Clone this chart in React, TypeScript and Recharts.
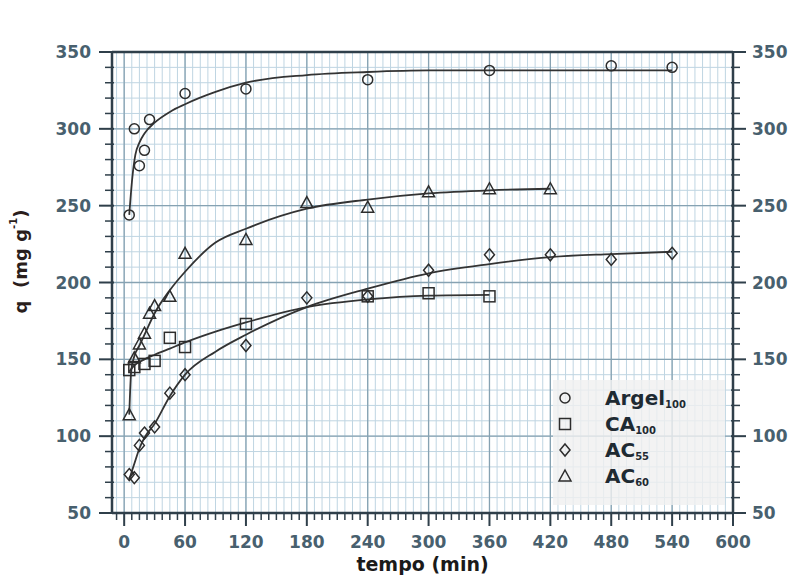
import React from "react";
import { ComposedChart, Line, Scatter, XAxis, YAxis, CartesianGrid, ReferenceLine, Legend } from "recharts";

// measured points (tempo in min, q in mg/g)
const argelT = [5, 10, 15, 20, 25, 60, 120, 240, 360, 480, 540];
const argelQ = [244, 300, 276, 286, 306, 323, 326, 332, 338, 341, 340];
const ca100T = [5, 10, 20, 30, 45, 60, 120, 240, 300, 360];
const ca100Q = [143, 145, 147, 149, 164, 158, 173, 191, 193, 191];
const ac55T = [5, 10, 15, 20, 30, 45, 60, 120, 180, 240, 300, 360, 420, 480, 540];
const ac55Q = [75, 73, 94, 102, 106, 128, 140, 159, 190, 191, 208, 218, 218, 215, 219];
const ac60T = [5, 10, 15, 20, 25, 30, 45, 60, 120, 180, 240, 300, 360, 420];
const ac60Q = [114, 151, 160, 167, 180, 185, 191, 219, 228, 252, 249, 259, 261, 261];

// fitted curves
const argelFitT = [5, 8, 11, 15, 20, 30, 45, 60, 90, 120, 180, 240, 300, 360, 420, 480, 540];
const argelFitQ = [244, 268, 283, 291, 297, 304, 311, 316, 324, 330, 335, 337, 338, 338, 338, 338, 338];
const ca100FitT = [5, 10, 20, 30, 45, 60, 90, 120, 180, 240, 300, 360];
const ca100FitQ = [142, 146, 150, 153, 157, 161, 168, 174, 184, 189, 191.5, 192];
const ac55FitT = [5, 10, 15, 20, 30, 45, 60, 90, 120, 180, 240, 300, 360, 420, 480, 540];
const ac55FitQ = [72, 82, 92, 99, 108, 126, 140, 155, 166, 184, 196, 206, 212, 216.5, 218.5, 220];
const ac60FitT = [5, 7, 10, 15, 20, 30, 45, 60, 90, 120, 180, 240, 300, 360, 420];
const ac60FitQ = [114, 143, 152, 159, 166, 180, 195, 207, 226, 235, 248, 254, 258, 260, 261];

const xMajor = [0, 60, 120, 180, 240, 300, 360, 420, 480, 540, 600];
const yMajor = [50, 100, 150, 200, 250, 300, 350];
const X_MINOR = 7.5;
const Y_MINOR = 10;

const zip = (t: number[], q: number[]) => t.map((v, i) => ({ t: v, q: q[i] }));

const xTicks: number[] = [];
for (let v = -X_MINOR; v <= 600; v += X_MINOR) xTicks.push(v);
const yTicks: number[] = [];
for (let v = 50; v <= 350; v += Y_MINOR) yTicks.push(v);

const FONT = "DejaVu Sans";
const INK = "#2c2c2c";
const AXIS = "#2f3f4a";
const LABEL = "#48606e";

type Shape = "circle" | "square" | "diamond" | "triangle";

function Marker({ cx, cy, shape }: { cx: number; cy: number; shape: Shape }) {
  const p = { fill: "none", stroke: INK, strokeWidth: 1.5 };
  if (shape === "circle") return <circle cx={cx} cy={cy} r={5} {...p} />;
  if (shape === "square") return <rect x={cx - 5.5} y={cy - 5.5} width={11} height={11} {...p} />;
  if (shape === "diamond") return <polygon points={`${cx},${cy - 6} ${cx + 5},${cy} ${cx},${cy + 6} ${cx - 5},${cy}`} {...p} />;
  return <polygon points={`${cx},${cy - 6} ${cx + 6},${cy + 5} ${cx - 6},${cy + 5}`} {...p} />;
}

const series = [
  { name: "Argel", sub: "100", shape: "circle" as Shape, pts: zip(argelT, argelQ), fit: zip(argelFitT, argelFitQ) },
  { name: "CA", sub: "100", shape: "square" as Shape, pts: zip(ca100T, ca100Q), fit: zip(ca100FitT, ca100FitQ) },
  { name: "AC", sub: "55", shape: "diamond" as Shape, pts: zip(ac55T, ac55Q), fit: zip(ac55FitT, ac55FitQ) },
  { name: "AC", sub: "60", shape: "triangle" as Shape, pts: zip(ac60T, ac60Q), fit: zip(ac60FitT, ac60FitQ) },
];

function AxisTick(props: any) {
  const { x, y, payload, side } = props;
  const v = payload.value;
  const isX = side === "bottom" || side === "top";
  const major = isX ? v % 60 === 0 : v % 50 === 0;
  const len = major ? 13 : 7;
  const txt = { fontFamily: FONT, fontSize: 17, fontWeight: "bold" as const, fill: LABEL };
  const line = { stroke: AXIS, strokeWidth: major ? 2 : 1.5 };
  if (side === "bottom")
    return (
      <g>
        <line x1={x} y1={y} x2={x} y2={y + len} {...line} />
        {major && <text x={x} y={y + 29} textAnchor="middle" dominantBaseline="central" {...txt}>{v}</text>}
      </g>
    );
  if (side === "top")
    return (
      <g>
        <line x1={x} y1={y} x2={x} y2={y - len} {...line} />
        {major && <text x={x} y={y - 27} textAnchor="middle" dominantBaseline="central" {...txt}>{v}</text>}
      </g>
    );
  if (side === "left")
    return (
      <g>
        <line x1={x + 2} y1={y} x2={x - len} y2={y} {...line} />
        {major && <text x={x - 21} y={y} textAnchor="end" dominantBaseline="central" {...txt}>{v}</text>}
      </g>
    );
  return (
    <g>
      <line x1={x - 2} y1={y} x2={x + len} y2={y} {...line} />
      {major && <text x={x + 19} y={y} textAnchor="start" dominantBaseline="central" {...txt}>{v}</text>}
    </g>
  );
}

function LegendBox() {
  return (
    <div style={{ width: 172, height: 125, background: "rgba(240,240,240,0.8)", paddingTop: 5, boxSizing: "border-box" }}>
      {series.map((s) => (
        <div key={s.name + s.sub} style={{ height: 26, display: "flex", alignItems: "center" }}>
          <svg width={40} height={26} style={{ display: "block" }}>
            <Marker cx={12} cy={13} shape={s.shape} />
          </svg>
          <span style={{ fontFamily: FONT, fontWeight: "bold", fontSize: 20, color: "#1e2a32", marginLeft: 12 }}>
            {s.name}
            <sub style={{ fontSize: 10, verticalAlign: "-3px" }}>{s.sub}</sub>
          </span>
        </div>
      ))}
    </div>
  );
}

export default function App() {
  return (
    <div style={{ position: "absolute", left: 0, top: 0, width: 800, height: 575, background: "#fff" }}>
      <ComposedChart width={800} height={575} margin={{ top: 12, right: 7, bottom: 22, left: 52 }}>
        <CartesianGrid xAxisId="b" yAxisId="l" stroke="#bfd5e2" strokeWidth={1} />
        <XAxis
          xAxisId="b"
          dataKey="t"
          type="number"
          domain={[-12, 600]}
          allowDataOverflow
          ticks={xTicks}
          interval={0}
          height={40}
          tickSize={0}
          tickMargin={0}
          tickLine={false}
          axisLine={{ stroke: AXIS, strokeWidth: 2.5 }}
          tick={(p: any) => <AxisTick {...p} side="bottom" />}
          label={{
            content: ({ viewBox }: any) => (
              <text x={viewBox.x + viewBox.width / 2} y={viewBox.y + 51} textAnchor="middle" dominantBaseline="central" fontFamily={FONT} fontSize={19} fontWeight="bold" fill="#1a1a1a">
                tempo (min)
              </text>
            ),
          }}
        />
        <XAxis
          xAxisId="t"
          orientation="top"
          type="number"
          domain={[-12, 600]}
          allowDataOverflow
          ticks={xTicks}
          interval={0}
          height={40}
          tickSize={0}
          tickMargin={0}
          tickLine={false}
          axisLine={{ stroke: AXIS, strokeWidth: 2.5 }}
          tick={(p: any) => <AxisTick {...p} side="top" />}
        />
        <YAxis
          yAxisId="l"
          dataKey="q"
          type="number"
          domain={[50, 350]}
          allowDataOverflow
          ticks={yTicks}
          interval={0}
          width={60}
          tickSize={0}
          tickMargin={0}
          tickLine={false}
          axisLine={{ stroke: AXIS, strokeWidth: 2.5 }}
          tick={(p: any) => <AxisTick {...p} side="left" />}
          label={{
            content: ({ viewBox }: any) => {
              const cx = viewBox.x - 32;
              const cy = viewBox.y + viewBox.height / 2 - 21;
              return (
                <text x={cx} y={cy} transform={`rotate(-90, ${cx}, ${cy})`} textAnchor="middle" dominantBaseline="central" fontFamily={FONT} fontSize={18} fontWeight="bold" fill="#2a1e1c">
                  {"q\u00a0 (mg g"}
                  <tspan dy={-7} fontSize={10}>-1</tspan>
                  <tspan dy={7}>)</tspan>
                </text>
              );
            },
          }}
        />
        <YAxis
          yAxisId="r"
          orientation="right"
          type="number"
          domain={[50, 350]}
          allowDataOverflow
          ticks={yTicks}
          interval={0}
          width={60}
          tickSize={0}
          tickMargin={0}
          tickLine={false}
          axisLine={{ stroke: AXIS, strokeWidth: 2.5 }}
          tick={(p: any) => <AxisTick {...p} side="right" />}
        />
        {xMajor.map((v) => (
          <ReferenceLine key={"vx" + v} xAxisId="b" yAxisId="l" x={v} stroke="#86a2b2" strokeWidth={1.3} />
        ))}
        {yMajor.map((v) => (
          <ReferenceLine key={"hy" + v} xAxisId="b" yAxisId="l" y={v} stroke="#86a2b2" strokeWidth={1.3} />
        ))}
        {series.map((s) => (
          <Line
            key={"fit" + s.name + s.sub}
            xAxisId="b"
            yAxisId="l"
            data={s.fit}
            dataKey="q"
            type="monotone"
            stroke="#333"
            strokeWidth={1.8}
            dot={false}
            legendType="none"
            isAnimationActive={false}
          />
        ))}
        {series.map((s) => (
          <Scatter
            key={"pts" + s.name + s.sub}
            xAxisId="b"
            yAxisId="l"
            name={s.name + s.sub}
            data={s.pts}
            dataKey="q"
            shape={(p: any) => <Marker cx={p.cx} cy={p.cy} shape={s.shape} />}
            isAnimationActive={false}
          />
        ))}
        <Legend
          layout="vertical"
          align="center"
          verticalAlign="middle"
          content={() => <LegendBox />}
          wrapperStyle={{ left: 553, top: 380, width: 172, height: 125 }}
        />
      </ComposedChart>
    </div>
  );
}
